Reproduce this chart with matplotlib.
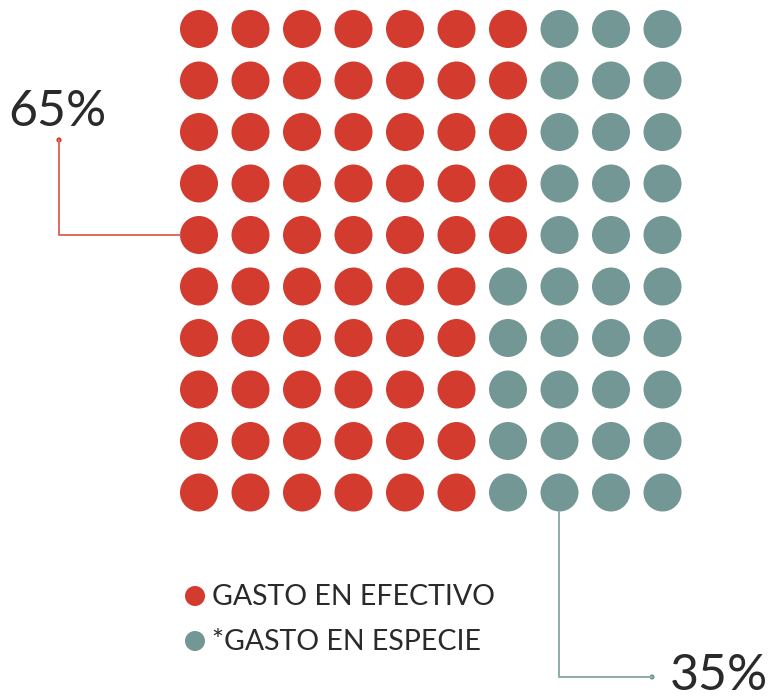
import matplotlib.pyplot as plt
from matplotlib.patches import Circle

# Datos del gráfico
categorias = ['GASTO EN EFECTIVO', '*GASTO EN ESPECIE']
porcentajes = [65, 35]
# puntos rojos por fila (10 filas x 10 columnas)
rojos_por_fila = [7, 7, 7, 7, 7, 6, 6, 6, 6, 6]
etiquetas = ['65%', '35%']

colores = ['#d33b2f', '#739795']
colores_linea = ['#de6a60', '#8fabaa']

# Geometría en píxeles
x0, y0, paso, radio = 199, 29, 51.5, 19

fig = plt.figure(figsize=(7.84, 7.0), dpi=100)
ax = fig.add_axes([0, 0, 1, 1])
ax.set_xlim(0, 784)
ax.set_ylim(700, 0)
ax.set_aspect('equal')
ax.axis('off')

plt.rcParams['font.family'] = ['Lato', 'DejaVu Sans']

for fila, n_rojos in enumerate(rojos_por_fila):
    for col in range(10):
        color = colores[0] if col < n_rojos else colores[1]
        ax.add_patch(Circle((x0 + col * paso, y0 + fila * paso), radio,
                            color=color, lw=0))

# Anotación 65%
ax.plot([59, 59, x0 - radio], [140, y0 + 4 * paso, y0 + 4 * paso],
        color=colores_linea[0], lw=1.4)
ax.add_patch(Circle((59, 140), 2.6, color=colores[0], lw=0))
ax.text(8, 112, etiquetas[0], fontsize=36, color='#2a2a2a',
        va='center', ha='left')

# Anotación 35%
xa = x0 + 7 * paso
ax.plot([xa, xa, 652], [y0 + 9 * paso + radio, 677, 677],
        color=colores_linea[1], lw=1.4)
ax.add_patch(Circle((652, 677), 2.6, color=colores[1], lw=0))
ax.text(670, 676, etiquetas[1], fontsize=36, color='#2a2a2a',
        va='center', ha='left')

# Leyenda
for i, (cat, color) in enumerate(zip(categorias, colores)):
    y = 596 + i * 45
    ax.add_patch(Circle((195, y), 10, color=color, lw=0))
    ax.text(212, y + 1, cat, fontsize=20.5, color='#2a2a2a',
            va='center', ha='left')

fig.savefig('out.png', dpi=100)
